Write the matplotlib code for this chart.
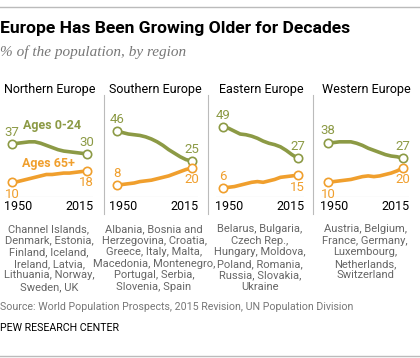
import numpy as np
import matplotlib.pyplot as plt

plt.rcParams['font.family'] = ['Roboto', 'DejaVu Sans']

W, H = 420, 358
GREEN = '#8c9a45'
ORANGE = '#f09f2d'

years = np.arange(1950, 2016, 5)
regions = ['Northern Europe', 'Southern Europe', 'Eastern Europe', 'Western Europe']

young = [
    [37, 37.5, 38, 38.5, 38.5, 37.5, 36, 34.5, 33, 32, 31.5, 31, 30.5, 30],
    [46, 45, 44, 43.5, 43, 42, 40.5, 38.5, 36, 33, 30.5, 28, 26, 25],
    [49, 48, 46, 44, 43.5, 42.5, 41, 39, 37.5, 36.5, 35, 32.5, 29.5, 27],
    [38, 38, 38.5, 38.5, 38.5, 37.5, 36, 34, 32.5, 31, 29.5, 28.5, 28, 27],
]
old = [
    [10, 10.5, 11.5, 12.5, 13.5, 14.5, 15.5, 15.5, 16, 16.5, 16.5, 17, 17.5, 18],
    [8, 8.5, 9, 9.5, 10.5, 11, 11.5, 12.5, 13.5, 14.5, 16, 17.5, 19, 20],
    [6, 6.5, 7, 8, 9, 10, 10.5, 10, 11, 12, 13.5, 14, 14.5, 15],
    [10, 10.5, 11, 11.5, 12, 13, 14, 14.5, 14, 14.5, 15.5, 16.5, 18, 20],
]
# printed end-point labels
young_lab = [(37, 30), (46, 25), (49, 27), (38, 27)]
old_lab = [(10, 18), (8, 20), (6, 15), (10, 20)]
# label side: +1 above, -1 below  (start, end)
old_side = [(-1, -1), (1, -1), (1, -1), (-1, -1)]

countries = [
    "Channel Islands,\nDenmark, Estonia,\nFinland, Iceland,\nIreland, Latvia,\nLithuania, Norway,\nSweden, UK",
    "Albania, Bosnia and\nHerzegovina, Croatia,\nGreece, Italy, Malta,\nMacedonia, Montenegro,\nPortugal, Serbia,\nSlovenia, Spain",
    "Belarus, Bulgaria,\nCzech Rep.,\nHungary, Moldova,\nPoland, Romania,\nRussia, Slovakia,\nUkraine",
    "Austria, Belgium,\nFrance, Germany,\nLuxembourg,\nNetherlands,\nSwitzerland",
]

fig = plt.figure(figsize=(W / 100, H / 100), dpi=100)


def fx(x):
    return x / W


def fy(y):
    return 1 - y / H


# top and bottom rules
fig.add_artist(plt.Line2D([0, 1], [fy(7), fy(7)], color='#bbbbbb', lw=1))
fig.add_artist(plt.Line2D([0, 1], [fy(356), fy(356)], color='#bbbbbb', lw=1))

fig.text(0, fy(28), "Europe Has Been Growing Older for Decades", fontsize=12.6,
         fontweight='bold', va='center', ha='left')
fig.text(0, fy(52), "% of the population, by region", fontsize=11, style='italic',
         color='#777777', va='center', ha='left', family=['Liberation Serif', 'DejaVu Serif'])

offsets = [0, 105, 211, 316]
for sx in [104, 208, 313]:
    fig.add_artist(plt.Line2D([fx(sx), fx(sx)], [fy(95), fy(214)], color='#bbbbbb', lw=0.8))

y0, y50 = 196.5, 125.5
for i, off in enumerate(offsets):
    ax = fig.add_axes([fx(off + 5), fy(y0), 88 / W, (y0 - y50) / H])
    ax.set_xlim(1944, 2020.5)
    ax.set_ylim(0, 50)
    ax.axis('off')
    ax.axhline(0, color='#bbbbbb', lw=0.8)

    for vals, labs, col, sides in [(young[i], young_lab[i], GREEN, (1, 1)),
                                    (old[i], old_lab[i], ORANGE, old_side[i])]:
        ax.plot(years, vals, color=col, lw=2.6, solid_capstyle='round', zorder=2)
        ax.plot([years[0], years[-1]], [vals[0], vals[-1]], 'o', ms=6, mfc='white',
                mec=col, mew=1.2, zorder=3, clip_on=False)
        for x, v, lab, s in [(years[0], vals[0], labs[0], sides[0]),
                             (years[-1], vals[-1], labs[1], sides[1])]:
            ax.annotate(str(lab), (x, v), xytext=(0, 8.5 * s), textcoords='offset points',
                        ha='center', va='center', color=col, fontsize=9.5)

    fig.text(fx(off + 50), fy(90), regions[i], ha='center', va='center', fontsize=9)
    fig.text(fx(off + 4), fy(207), '1950', ha='left', va='center', fontsize=9)
    fig.text(fx(off + 94), fy(207), '2015', ha='right', va='center', fontsize=9)
    fig.text(fx(off + 49), fy(224), countries[i], ha='center', va='top', fontsize=8,
             color='#666666', linespacing=1.2)

fig.text(fx(52), fy(125), 'Ages 0-24', ha='center', va='center', fontsize=9,
         fontweight='bold', color=GREEN)
fig.text(fx(48), fy(163), 'Ages 65+', ha='center', va='center', fontsize=9,
         fontweight='bold', color=ORANGE)

fig.text(0, fy(307), "Source: World Population Prospects, 2015 Revision, UN Population Division",
         fontsize=7.7, color='#777777', va='center', ha='left')
fig.text(0, fy(328), "PEW RESEARCH CENTER", fontsize=7.7, color='black', va='center', ha='left')

fig.savefig('out.png', dpi=100)
